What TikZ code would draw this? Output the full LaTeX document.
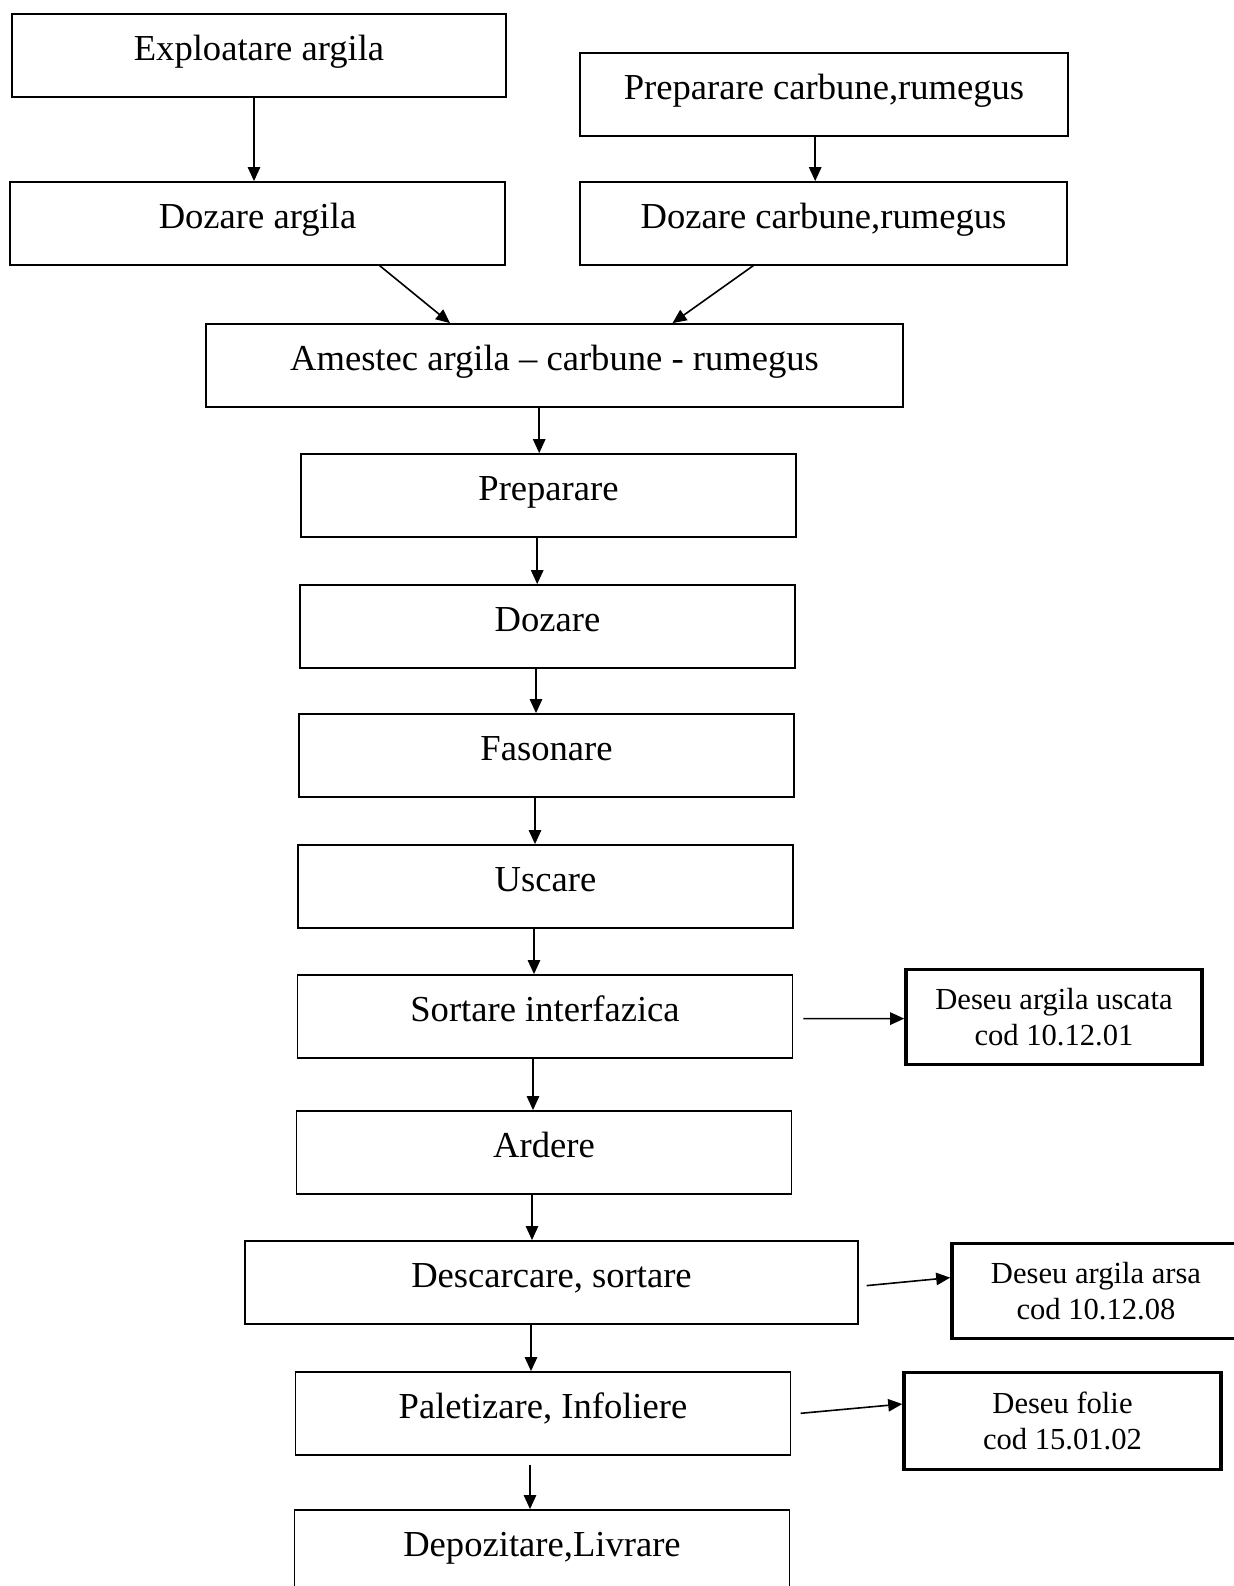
\documentclass[tikz,border=0pt]{standalone}
\usepackage{fontspec}
\setmainfont{Liberation Serif}
\usetikzlibrary{arrows.meta}
\begin{document}
\begin{tikzpicture}[x=1pt,y=-1pt,
  box/.style={draw, line width=0.9pt, rectangle, inner xsep=0pt, inner ysep=0pt,
    font=\fontsize{18.3}{22}\selectfont, text height=23pt, text depth=18.3pt,
    minimum width=247.5pt, minimum height=41.3pt},
  wbox/.style={draw, line width=1.8pt, rectangle, inner sep=0pt, align=center,
    font=\fontsize{15.3}{18.4}\selectfont, minimum height=47.5pt},
  arr/.style={-{Triangle[length=7pt,width=6.2pt]}, line width=0.8pt}]
\useasboundingbox (0,0) rectangle (617,793);
\clip (0,0) rectangle (617,793);

\node[box, minimum width=247pt]   (expl)    at (129.5,27.65)   {Exploatare argila};
\node[box, minimum width=244pt]   (prepc)   at (412,47.15)     {Preparare carbune,rumegus};
\node[box]                        (doza)    at (128.75,111.65) {Dozare argila};
\node[box, minimum width=243.5pt] (dozc)    at (411.75,111.65) {Dozare carbune,rumegus};
\node[box, minimum width=348.5pt] (amestec) at (277.25,182.65) {Amestec argila -- carbune - rumegus};
\node[box] (prep) at (274.25,247.65) {Preparare};
\node[box] (doz)  at (273.75,313.15) {Dozare};
\node[box] (fas)  at (273.25,377.65) {Fasonare};
\node[box] (usc)  at (272.75,443.15) {Uscare};
\node[box] (sort) at (272.5,508.15)  {Sortare interfazica};
\node[box] (ard)  at (272,576.15)    {Ardere};
\node[box, minimum width=306.5pt] (desc) at (275.75,641.15) {Descarcare, sortare};
\node[box] (pal)  at (271.5,706.65)  {Paletizare, Infoliere};
\node[box] (dep)  at (271,775.65)    {Depozitare,Livrare};

\node[wbox, minimum width=148pt]   (wus) at (527,508.5)    {Deseu argila uscata\\cod 10.12.01};
\node[wbox, minimum width=144pt]   (war) at (548,645.5)    {Deseu argila arsa\\cod 10.12.08};
\node[wbox, minimum width=158.5pt, minimum height=48.5pt] (wfo) at (531.25,710.5) {Deseu folie\\cod 15.01.02};

\draw[arr] ([xshift=-2.5pt]expl.south) -- ([xshift=-1.75pt]doza.north);
\draw[arr] ([xshift=-4.4pt]prepc.south) -- ([xshift=-4.15pt]dozc.north);
\draw[arr] ([xshift=61pt]doza.south) -- ([xshift=-52.25pt]amestec.north);
\draw[arr] ([xshift=-35pt]dozc.south) -- ([xshift=59pt]amestec.north);
\draw[arr] ([xshift=-7.65pt]amestec.south) -- ([xshift=-4.65pt]prep.north);
\draw[arr] ([xshift=-5.65pt]prep.south) -- ([xshift=-5.15pt]doz.north);
\draw[arr] ([xshift=-5.75pt]doz.south) -- ([xshift=-5.25pt]fas.north);
\draw[arr] ([xshift=-5.75pt]fas.south) -- ([xshift=-5.25pt]usc.north);
\draw[arr] ([xshift=-5.75pt]usc.south) -- ([xshift=-5.5pt]sort.north);
\draw[arr] ([xshift=-6pt]sort.south) -- ([xshift=-5.5pt]ard.north);
\draw[arr] ([xshift=-6pt]ard.south) -- ([xshift=-9.75pt]desc.north);
\draw[arr] ([xshift=-10.25pt]desc.south) -- ([xshift=-6pt]pal.north);
\draw[arr] ([xshift=-6.5pt,yshift=-4.5pt]pal.south) -- ([xshift=-6pt]dep.north);

\draw[arr] ([xshift=5pt,yshift=-1.15pt]sort.east) -- ([yshift=-0.8pt]wus.west);
\draw[arr] ([xshift=3.9pt,yshift=-1.65pt]desc.east) -- ([yshift=6.7pt]war.west);
\draw[arr] ([xshift=4.6pt]pal.east) -- ([yshift=8.5pt]wfo.west);
\end{tikzpicture}
\end{document}
